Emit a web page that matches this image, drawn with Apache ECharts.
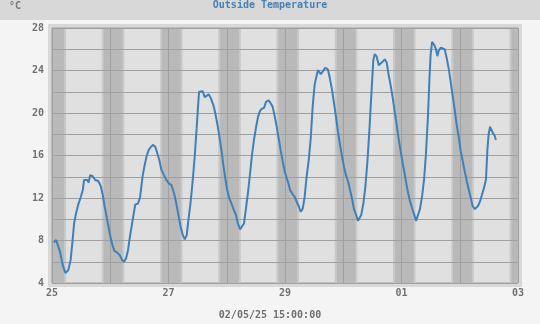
<!DOCTYPE html>
<html>
<head>
<meta charset="utf-8">
<script src="https://cdn.jsdelivr.net/npm/echarts@6/dist/echarts.min.js"></script>
<style>html,body{margin:0;padding:0;background:#f4f4f4;}#c{width:540px;height:324px;}</style>
</head>
<body>
<div id="c"></div>
<script>
// hours since 25 Apr 2025 00:00
var hours = [0.8,1.7,2.2,3.3,4.4,5.5,6.1,6.7,7.7,8.5,9.1,9.9,10.7,11.8,12.7,13.2,13.7,14.5,15.1,15.7,16.8,17.8,19.1,20.1,20.9,21.7,22.5,23.4,24.2,25.0,25.8,26.9,28.0,28.8,29.7,30.5,31.3,32.1,33.0,33.8,34.3,35.4,36.3,36.8,37.4,38.2,39.0,39.8,40.7,41.7,42.6,43.4,44.2,45.0,45.9,47.0,48.1,
49.2,50.3,51.2,52.2,53.0,53.9,54.7,55.5,56.3,57.2,58.0,58.8,59.6,60.2,60.6,62.1,62.9,63.7,64.6,65.4,66.5,67.3,68.1,68.9,69.8,70.6,71.4,72.2,73.1,73.9,74.7,75.8,76.6,77.5,78.3,79.1,79.9,80.8,81.6,82.4,83.2,84.1,84.9,85.7,86.5,87.4,88.2,89.3,90.1,90.9,91.8,92.6,93.4,94.2,95.1,95.9,96.7,
97.2,98.1,98.9,100.0,100.8,101.7,102.5,103.3,104.1,104.9,105.8,106.6,107.4,108.2,109.1,109.6,110.7,111.5,112.6,113.7,114.5,115.4,116.2,117.0,117.8,118.7,119.5,120.3,121.1,122.0,122.8,123.6,124.4,125.3,126.1,126.6,127.4,128.3,129.1,129.9,130.7,131.6,132.4,133.0,133.8,134.6,135.4,136.3,137.1,137.9,138.7,139.6,140.4,141.2,142.0,142.9,143.7,144.5,
145.3,145.9,146.7,147.5,148.3,149.2,150.0,150.8,151.6,152.5,153.3,154.1,154.9,155.5,156.0,156.6,157.4,158.2,158.8,159.3,160.2,161.0,161.8,162.6,163.5,164.3,165.1,165.9,166.7,167.6,168.4,169.2,170.0,170.9,171.7,172.5,173.3,174.2,174.7,175.5,176.4,177.2,178.0,178.8,179.4,179.9,180.5,181.0,181.6,182.4,182.9];
var temps = [7.8,8.05,8.0,6.95,5.7,4.95,4.8,5.2,6.2,8.05,9.6,10.55,11.3,12.05,12.75,13.7,13.8,13.7,13.45,14.15,14.05,13.7,13.6,13.1,12.3,11.2,10.25,9.15,8.2,7.5,7.0,6.85,6.6,6.2,6.0,6.3,7.05,8.35,9.6,10.7,11.4,11.45,12.1,13.05,14.15,15.1,15.95,16.5,16.8,17.0,16.8,16.2,15.6,14.7,14.25,13.75,13.4,
13.2,12.45,11.5,10.25,9.3,8.5,8.1,8.5,10.1,11.8,13.7,15.9,18.55,20.75,22.0,22.05,21.5,21.6,21.75,21.4,20.75,19.95,19.0,17.9,16.5,15.1,13.85,12.75,11.95,11.5,11.0,10.4,9.6,9.05,9.05,9.6,11.0,12.6,14.3,16.05,17.45,18.7,19.65,20.2,20.4,20.5,21.05,21.2,21.2,20.6,19.65,18.7,17.6,16.5,15.4,14.5,13.85,
13.55,12.75,12.45,12.1,11.65,11.2,10.7,11.0,12.1,14.0,15.6,17.6,20.6,22.65,23.6,24.05,23.65,23.9,24.25,24.1,23.25,22.15,20.9,19.65,18.25,17.0,15.9,14.95,14.15,13.55,12.75,11.95,11.0,10.4,9.85,9.75,10.4,11.5,13.05,15.25,18.1,21.85,25.0,25.55,25.3,24.5,24.4,24.85,25.05,24.75,23.6,22.5,21.4,20.1,18.9,17.45,16.35,15.25,
14.3,13.45,12.5,11.7,11.1,10.45,9.85,9.85,10.95,12.2,13.75,16.25,19.7,23.15,25.5,26.7,26.45,26.0,25.35,25.85,26.15,26.25,26.0,25.2,24.1,22.85,21.6,20.35,18.95,17.7,16.4,15.5,14.55,13.6,12.8,12.05,11.25,10.95,10.8,11.25,11.7,12.35,12.95,13.75,16.6,18.0,18.7,18.6,18.15,17.85,17.45];
var dayLabels = ['25','26','27','28','29','30','01','02','03'];
var yMin = 4, yMax = 28, yStep = 2, yLabelStep = 4;
var duskHour = 21.3, dawnHour = 5.0, twilight = 0.8;
var titleText = 'Outside Temperature';
var unitText = '°C';
var footerText = '02/05/25 15:00:00';

var xMax = (dayLabels.length - 1) * 24;
var coreAreas = [], edgeAreas = [];
var cl = function (v) { return Math.max(0, Math.min(xMax, v)); };
for (var d = -1; d < dayLabels.length - 1; d++) {
  var s = d * 24 + duskHour, e = (d + 1) * 24 + dawnHour;
  if (cl(s - twilight) < cl(e + twilight)) edgeAreas.push([{xAxis: cl(s - twilight)}, {xAxis: cl(e + twilight)}]);
  if (cl(s) < cl(e)) coreAreas.push([{xAxis: cl(s)}, {xAxis: cl(e)}]);
}
var seriesData = hours.map(function (h, i) { return [h, temps[i]]; });
var mono = '"DejaVu Sans Mono", "Liberation Mono", monospace';

var chart = echarts.init(document.getElementById('c'), null, {renderer: 'canvas'});
chart.setOption({
  animation: false,
  backgroundColor: '#f4f4f4',
  graphic: [
    {type: 'rect', z: -10, shape: {x: 0, y: 0, width: 540, height: 20}, style: {fill: '#d8d8d8'}},
    {type: 'rect', z: -10, shape: {x: 48, y: 24, width: 474, height: 263}, style: {fill: '#d8d8d8'}},
    {type: 'text', left: 9, top: 1, style: {text: unitText, fill: '#7a7a7a', font: 'bold 10px ' + mono}},
    {type: 'text', left: 'center', top: 310, style: {text: footerText, fill: '#707070', font: 'bold 10px ' + mono}}
  ],
  title: {text: titleText, left: 'center', top: 0, padding: 0, textStyle: {color: '#4682b4', fontSize: 10, fontWeight: 'bold', fontFamily: mono}},
  grid: {left: 52, top: 28, width: 466, height: 255, show: true, backgroundColor: '#e0e0e0', borderColor: '#a0a0a0', borderWidth: 1, z: 0},
  xAxis: {
    type: 'value', min: 0, max: xMax, interval: 24, z: 3,
    axisLine: {show: false}, axisTick: {show: false},
    splitLine: {show: true, lineStyle: {color: '#a0a0a0', width: 1}},
    axisLabel: {
      margin: 5, color: '#707070', fontWeight: 'bold', fontSize: 10, fontFamily: mono,
      formatter: function (v) { var i = Math.round(v / 24); return i % 2 === 0 ? dayLabels[i] : ''; }
    }
  },
  yAxis: {
    type: 'value', min: yMin, max: yMax, interval: yStep, z: 3,
    axisLine: {show: false}, axisTick: {show: false},
    splitLine: {show: true, lineStyle: {color: '#a0a0a0', width: 1}},
    axisLabel: {
      margin: 8, color: '#707070', fontWeight: 'bold', fontSize: 10, fontFamily: mono,
      formatter: function (v) { return v % yLabelStep === 0 ? String(v) : ''; }
    }
  },
  series: [
    {type: 'line', z: 1, data: [], silent: true,
     markArea: {silent: true, itemStyle: {color: '#c9c9c9'}, data: edgeAreas}},
    {type: 'line', z: 2, data: [], silent: true,
     markArea: {silent: true, itemStyle: {color: '#b9b9b9'}, data: coreAreas}},
    {type: 'line', z: 5, data: seriesData, showSymbol: false, symbol: 'none',
     lineStyle: {color: '#3f80b9', width: 2}}
  ]
});
</script>
</body>
</html>
